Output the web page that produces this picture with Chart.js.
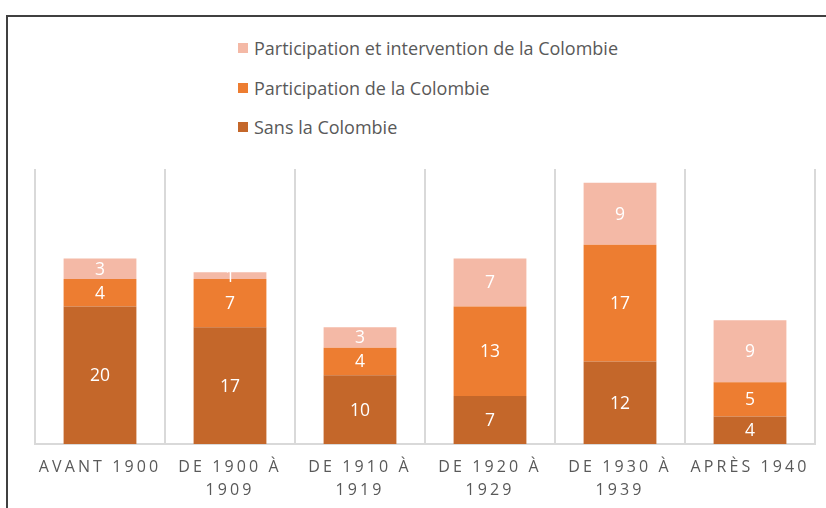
<!DOCTYPE html>
<html>
<head>
<meta charset="utf-8">
<script src="https://cdn.jsdelivr.net/npm/chart.js@4/dist/chart.umd.min.js"></script>
<style>
  html, body { margin:0; padding:0; background:#fff; overflow:hidden; }
  #wrap { position:relative; width:826px; height:508px; }
  #frame { position:absolute; left:6px; top:15px; width:840px; height:520px; border-top:2px solid #404040; border-left:2px solid #404040; box-sizing:border-box; }
  #legend { position:absolute; left:238px; top:35px; font-family:'Open Sans', sans-serif; font-size:18px; color:#595959; }
  .item { display:flex; align-items:center; height:26px; margin-bottom:13.5px; white-space:nowrap; }
  .box { width:10px; height:10px; margin-right:6px; }
  canvas { position:absolute; left:0; top:0; }
</style>
</head>
<body>
<div id="wrap">
  <div id="frame"></div>
  <div id="legend"></div>
  <canvas id="chart" width="826" height="508"></canvas>
</div>
<script>
const categories = [['AVANT 1900'], ['DE 1900 À', '1909'], ['DE 1910 À', '1919'], ['DE 1920 À', '1929'], ['DE 1930 À', '1939'], ['APRÈS 1940']];
const sansColombie = [20, 17, 10, 7, 12, 4];
const participation = [4, 7, 4, 13, 17, 5];
const participationIntervention = [3, 1, 3, 7, 9, 9];

const seriesNames = ['Sans la Colombie', 'Participation de la Colombie', 'Participation et intervention de la Colombie'];
const seriesColors = ['#C4672A', '#ED7D31', '#F4B9A6'];

// white value labels centred in each segment
const valueLabels = {
  id: 'valueLabels',
  afterDatasetsDraw(chart) {
    const ctx = chart.ctx;
    ctx.save();
    ctx.letterSpacing = '0px';
    ctx.font = "17.5px 'Open Sans', sans-serif";
    ctx.fillStyle = '#ffffff';
    ctx.textAlign = 'center';
    ctx.textBaseline = 'middle';
    chart.data.datasets.forEach((ds, i) => {
      chart.getDatasetMeta(i).data.forEach((bar, j) => {
        const mid = (bar.y + bar.base) / 2;
        ctx.fillText(String(ds.data[j]), bar.x, mid + 1);
      });
    });
    ctx.restore();
  }
};

// spaced-out axis labels like the original
const spacedTicks = {
  id: 'spacedTicks',
  beforeDraw(chart) { chart.ctx.letterSpacing = '3.1px'; },
  beforeDatasetsDraw(chart) { chart.ctx.letterSpacing = '0px'; }
};

const chart = new Chart(document.getElementById('chart'), {
  type: 'bar',
  data: {
    labels: categories,
    datasets: [
      { label: seriesNames[0], data: sansColombie, backgroundColor: seriesColors[0] },
      { label: seriesNames[1], data: participation, backgroundColor: seriesColors[1] },
      { label: seriesNames[2], data: participationIntervention, backgroundColor: seriesColors[2] }
    ]
  },
  options: {
    responsive: false,
    animation: false,
    layout: { padding: { left: 35, right: 11, top: 169, bottom: 0 } },
    datasets: { bar: { barPercentage: 0.56, categoryPercentage: 1 } },
    scales: {
      x: {
        stacked: true,
        grid: { display: true, offset: true, color: '#D9D9D9', lineWidth: 2, drawTicks: false },
        border: { display: true, color: '#D9D9D9', width: 2 },
        ticks: { color: '#595959', font: { family: "'Open Sans', sans-serif", size: 16, lineHeight: 1.45 }, padding: 12, maxRotation: 0, autoSkip: false },
        afterFit: s => { s.height = 64; }
      },
      y: { stacked: true, display: false, min: 0, max: 40 }
    },
    plugins: { legend: { display: false }, tooltip: { enabled: false } }
  },
  plugins: [valueLabels, spacedTicks]
});

// legend in reverse order, one item per row
const legendEl = document.getElementById('legend');
chart.data.datasets.slice().reverse().forEach(ds => {
  const row = document.createElement('div');
  row.className = 'item';
  row.innerHTML = '<span class="box" style="background:' + ds.backgroundColor + '"></span>' + ds.label;
  legendEl.appendChild(row);
});
</script>
</body>
</html>
